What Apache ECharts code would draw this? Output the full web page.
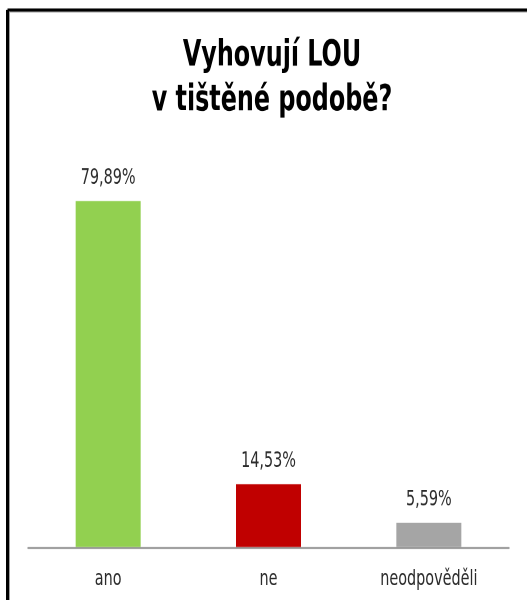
<!DOCTYPE html>
<html>
<head>
<meta charset="utf-8">
<script src="https://cdn.jsdelivr.net/npm/echarts@6/dist/echarts.min.js"></script>
<style>
html,body{margin:0;padding:0;background:#fff;width:527px;height:600px;}
#frame{width:527px;height:600px;position:relative;overflow:visible;}
/* The chart is laid out on a shorter canvas and stretched vertically,
   giving the tall, narrow lettering of the original slide. */
#chart{position:absolute;left:0;top:0;width:527px;height:444px;transform:scaleY(1.35135);transform-origin:0 0;}
</style>
</head>
<body>
<div id="frame"><div id="chart"></div></div>
<script>
// Survey answers: are the printed LOU satisfactory?
const categories = ['ano', 'ne', 'neodpověděli'];
const values = [79.89, 14.53, 5.59];
const barColors = ['#92D050', '#C00000', '#A5A5A5'];
const titleLines = ['Vyhovují LOU', 'v tištěné podobě?'];

const FONT = '"DejaVu Sans Condensed", "Liberation Sans Narrow", sans-serif';

const chart = echarts.init(document.getElementById('chart'), null, {
  renderer: 'canvas',
  devicePixelRatio: 2
});

chart.setOption({
  animation: false,
  backgroundColor: '#ffffff',
  title: {
    text: titleLines.join('\n'),
    left: 267,
    textAlign: 'center',
    top: 20,
    textStyle: {
      fontFamily: FONT,
      fontWeight: 'bold',
      fontSize: 26.5,
      lineHeight: 33,
      color: '#000000'
    }
  },
  grid: { left: 28, right: 18, top: 84.3, bottom: 39.2 },
  xAxis: {
    type: 'category',
    data: categories,
    axisLine: { lineStyle: { color: '#8C8C8C', width: 1.2 } },
    axisTick: { show: false },
    axisLabel: {
      margin: 16,
      fontFamily: FONT,
      fontSize: 16,
      color: '#2b2b2b'
    }
  },
  yAxis: {
    type: 'value',
    min: 0,
    max: 100,
    show: false,
    splitLine: { show: false }
  },
  series: [{
    type: 'bar',
    barWidth: 65,
    data: values.map((v, i) => ({ value: v, itemStyle: { color: barColors[i] } })),
    label: {
      show: true,
      position: 'top',
      distance: 9,
      fontFamily: FONT,
      fontSize: 16,
      color: '#2b2b2b',
      formatter: p => p.value.toFixed(2).replace('.', ',') + '%'
    }
  }],
  graphic: [
    { type: 'line', shape: { x1: 7.5, y1: 7.4, x2: 527, y2: 7.4 }, style: { stroke: '#000', lineWidth: 2.2 } },
    { type: 'line', shape: { x1: 7.5, y1: 7.4, x2: 7.5, y2: 444 }, style: { stroke: '#000', lineWidth: 3 } },
    { type: 'line', shape: { x1: 9.5, y1: 8.9, x2: 527, y2: 8.9 }, style: { stroke: '#A0A0A0', lineWidth: 0.75 } },
    { type: 'line', shape: { x1: 9.5, y1: 8.9, x2: 9.5, y2: 444 }, style: { stroke: '#A0A0A0', lineWidth: 1 } }
  ]
});
</script>
</body>
</html>
